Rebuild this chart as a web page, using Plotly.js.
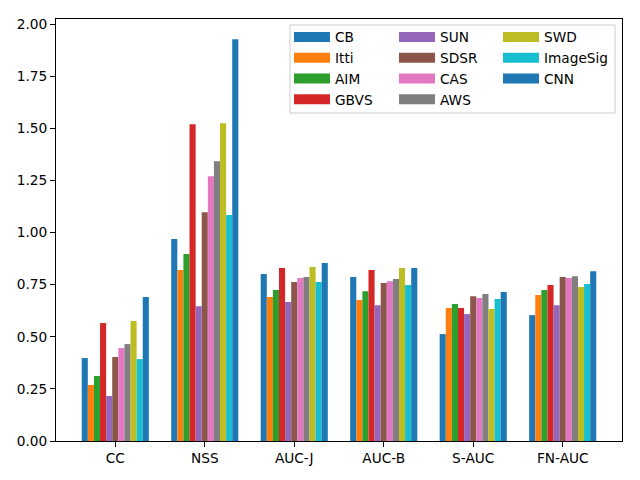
<!DOCTYPE html>
<html>
<head>
<meta charset="utf-8">
<script src="https://cdn.plot.ly/plotly-3.0.1.min.js"></script>
<style>
  html, body { margin: 0; padding: 0; background: #fff; }
  #chart { width: 640px; height: 480px; }
</style>
</head>
<body>
<div id="chart"></div>
<script>
// metrics on the x axis
const metrics = ['CC', 'NSS', 'AUC-J', 'AUC-B', 'S-AUC', 'FN-AUC'];

// one score list per saliency model, same order as metrics
const CB       = [0.398, 0.969, 0.801, 0.787, 0.513, 0.604];
const Itti     = [0.269, 0.820, 0.691, 0.676, 0.638, 0.700];
const AIM      = [0.312, 0.897, 0.724, 0.719, 0.657, 0.724];
const GBVS     = [0.566, 1.520, 0.830, 0.820, 0.638, 0.748];
const SUN      = [0.216, 0.647, 0.667, 0.652, 0.609, 0.652];
const SDSR     = [0.403, 1.098, 0.763, 0.758, 0.695, 0.787];
const CAS      = [0.446, 1.271, 0.782, 0.767, 0.686, 0.782];
const AWS      = [0.465, 1.343, 0.787, 0.777, 0.705, 0.791];
const SWD      = [0.576, 1.525, 0.835, 0.830, 0.633, 0.739];
const ImageSig = [0.393, 1.084, 0.763, 0.748, 0.681, 0.753];
const CNN      = [0.691, 1.928, 0.854, 0.830, 0.715, 0.815];

const models = ['CB', 'Itti', 'AIM', 'GBVS', 'SUN', 'SDSR', 'CAS', 'AWS', 'SWD', 'ImageSig', 'CNN'];
const scores = [CB, Itti, AIM, GBVS, SUN, SDSR, CAS, AWS, SWD, ImageSig, CNN];

// matplotlib tab10 cycle (wraps back to blue for the 11th)
const colors = ['#1f77b4', '#ff7f0e', '#2ca02c', '#d62728', '#9467bd', '#8c564b',
                '#e377c2', '#7f7f7f', '#bcbd22', '#17becf', '#1f77b4'];

const traces = models.map((name, i) => ({
  type: 'bar',
  name: name,
  x: metrics.map((_, k) => k),
  y: scores[i],
  marker: { color: colors[i], line: { width: 0 } },
  showlegend: false,
  hoverinfo: 'name+y',
}));

// matplotlib draws wide flat patches in a 3-column legend (filled by column).
// Plotly has no multi-column legend, so use three legends side by side and
// thick-line entries (no data) as the patch handles.
const ROWS = 4;
const legendIds = ['legend', 'legend2', 'legend3'];
models.forEach((name, i) => {
  traces.push({
    type: 'scatter',
    mode: 'lines',
    name: name,
    x: [null],
    y: [null],
    line: { color: colors[i], width: 10 },
    legend: legendIds[Math.floor(i / ROWS)],
    hoverinfo: 'skip',
  });
});

const font = { family: 'DejaVu Sans, sans-serif', size: 13.7, color: '#000' };

// plot area in px: left 56, right 622, top 19, bottom 441
const plotL = 56, plotW = 566, plotB = 441, plotH = 422;
const px = (x) => (x - plotL) / plotW;
const py = (y) => (plotB - y) / plotH;

function colLegend(leftPx) {
  return {
    orientation: 'v',
    x: px(leftPx),
    xanchor: 'left',
    y: py(21.5),
    yanchor: 'top',
    itemwidth: 36,
    bgcolor: 'rgba(0,0,0,0)',
    borderwidth: 0,
    font: font,
    traceorder: 'normal',
  };
}

const layout = {
  width: 640,
  height: 480,
  paper_bgcolor: '#fff',
  plot_bgcolor: '#fff',
  font: font,
  margin: { l: 56, r: 18, t: 19, b: 39 },
  barmode: 'group',
  bargap: 0.25,
  bargroupgap: 0,
  showlegend: true,
  legend: colLegend(289),
  legend2: colLegend(394),
  legend3: colLegend(498),
  shapes: [{
    type: 'rect',
    xref: 'paper',
    yref: 'paper',
    x0: px(290),
    x1: px(615),
    y0: py(113),
    y1: py(25),
    line: { color: '#cccccc', width: 1 },
    fillcolor: 'rgba(255,255,255,0.8)',
    layer: 'above',
  }],
  xaxis: {
    range: [-0.6625, 5.6625],
    tickmode: 'array',
    tickvals: metrics.map((_, k) => k),
    ticktext: metrics,
    ticks: 'outside',
    ticklen: 5,
    tickcolor: '#000',
    showline: true,
    linecolor: '#000',
    linewidth: 1,
    mirror: true,
    showgrid: false,
    zeroline: false,
    fixedrange: true,
  },
  yaxis: {
    range: [0, 2.025],
    tickmode: 'linear',
    tick0: 0,
    dtick: 0.25,
    tickformat: '.2f',
    ticks: 'outside',
    ticklen: 5,
    tickcolor: '#000',
    showline: true,
    linecolor: '#000',
    linewidth: 1,
    mirror: true,
    showgrid: false,
    zeroline: false,
    fixedrange: true,
  },
};

Plotly.newPlot('chart', traces, layout, { displayModeBar: false, staticPlot: true });
</script>
</body>
</html>
